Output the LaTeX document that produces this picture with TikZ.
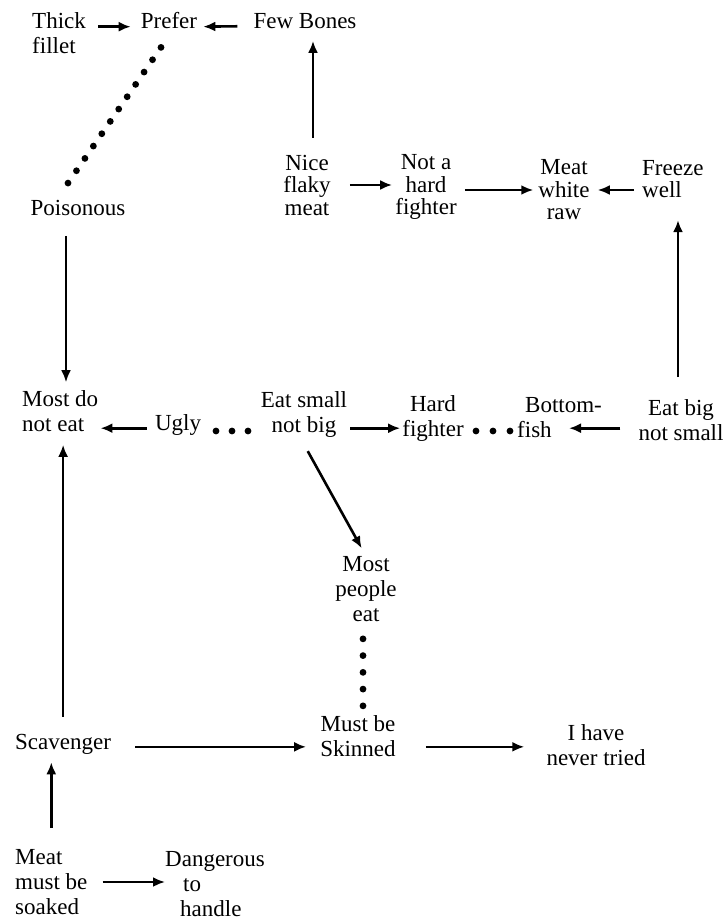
\documentclass[tikz,border=0pt]{standalone}
\usepackage{fontspec}
\setmainfont{Liberation Serif}
\usetikzlibrary{calc,arrows.meta}
\tikzset{
  concept/.style={font=\fontsize{23}{25}\selectfont, align=center, inner sep=0pt},
  tight/.style={font=\fontsize{23}{22.5}\selectfont},
  arrow/.style={-{Latex[length=12pt, width=10pt]}, line width=2.6pt},
  dot/.style={fill=black}
}

\begin{document}
\begin{tikzpicture}[x=1pt, y=-1pt]
  \useasboundingbox (0,0) rectangle (727,920);

  % Top row
  \node[concept, anchor=west, align=left] (thick) at (32,33) {Thick\\fillet};
  \node[concept] (prefer) at (169,21) {Prefer};
  \node[concept] (bones) at (305,21) {Few Bones};
  \node[concept] (poison) at (78,208) {Poisonous};
  \draw[arrow, shorten <=12pt, shorten >=10pt] (thick.east |- prefer.mid) -- (prefer.mid west);
  \draw[arrow, shorten <=16pt, shorten >=6pt] (bones.mid west) -- (prefer.mid east);
  % dots Prefer ... Poisonous
  \coordinate (p1) at ($(prefer.south)+(-8,18)$);
  \coordinate (p2) at ($(poison.north)+(-10,-17)$);
  \foreach \i in {0,...,11}
    \fill[dot] ($(p1)!\i/11!(p2)$) circle (3.4pt);

  % Fish meat row
  \node[concept, tight] (nice) at (307,185) {Nice\\flaky\\meat};
  \node[concept, tight] (nothard) at (426,187) {Not a\\hard\\fighter};
  \node[concept, tight] (white) at (564,190) {Meat\\white\\raw};
  \node[concept, tight, anchor=west, align=left] (freeze) at (642,179) {Freeze\\well};
  \draw[arrow, shorten <=17pt, shorten >=12pt] ([xshift=6pt]nice.north) -- ([xshift=6pt]nice.north |- bones.south);
  \draw[arrow, shorten <=19pt, shorten >=3pt] (nice.east) -- (nice.east -| nothard.west);
  \draw[arrow, shorten <=8pt, shorten >=5pt] (nothard.east |- white) -- (white.west);
  \draw[arrow, shorten <=8pt, shorten >=8pt] (freeze.west |- white) -- (white.east);

  % Middle row
  \node[concept, anchor=west, align=left] (mostnot) at (22,411) {Most do\\not eat};
  \node[concept] (ugly) at (178,425) {Ugly};
  \node[concept] (small) at (304,414) {Eat small\\not big};
  \node[concept] (hard) at (433,418) {Hard\\fighter};
  \node[concept, anchor=west, align=left] (bottom) at (517,418) {\hspace*{8pt}Bottom-\\fish};
  \node[concept] (bigsmall) at (681,420) {Eat big\\not small};
  \draw[arrow, shorten <=22pt, shorten >=22pt] ([xshift=-3pt]bigsmall.north) -- ([xshift=-3pt]bigsmall.north |- freeze.south);
  \draw[arrow, shorten <=20pt, shorten >=8pt] ([xshift=-12pt]poison.south) -- ([xshift=-12pt]poison.south |- mostnot.north);
  \draw[arrow, shorten <=8pt, shorten >=2pt] (ugly.mid west) -- (ugly.mid west -| mostnot.east);
  \draw[arrow, shorten <=3pt, shorten >=2pt] (small.east |- ugly.mid) -- (hard.west |- ugly.mid);
  \draw[arrow, shorten <=18pt] (bigsmall.west |- ugly.mid) -- ([xshift=52pt]bottom.west |- ugly.mid);
  \foreach \x in {216,232,248}
    \fill[dot] (\x,431) circle (3.4pt);
  \foreach \x in {476,493,510}
    \fill[dot] (\x,431) circle (3.4pt);

  % Lower part
  \node[concept] (mostpeople) at (366,589) {Most\\people\\eat};
  \node[concept] (skinned) at (358,736) {Must be\\Skinned};
  \node[concept] (never) at (596,745) {I have\\never tried};
  \node[concept, anchor=west] (scav) at (15,744) {Scavenger};
  \node[concept, anchor=west, align=left] (soaked) at (15,882) {Meat\\must be\\soaked};
  \node[concept, anchor=west, align=left] (danger) at (165,884) {Dangerous\\\hspace*{18pt}to\\\hspace*{15pt}handle};
  \draw[arrow, shorten <=16pt, shorten >=9pt] ([xshift=-4pt]small.south) -- (mostpeople.north);
  \foreach \i in {0,...,4}
    \fill[dot] ($(mostpeople.south)+(-3,17+\i*16.75)$) circle (3.4pt);
  \draw[arrow, shorten <=24pt, shorten >=14pt] (scav.mid east) -- (scav.mid east -| skinned.west);
  \draw[arrow, shorten <=30pt, shorten >=22pt] (skinned.east |- scav.mid) -- (scav.mid -| never.west);
  \draw[arrow, shorten <=17pt, shorten >=13pt] (scav.north) -- (scav.north |- mostnot.south);
  \draw[arrow, shorten <=21pt, shorten >=8pt] (soaked.north) -- (soaked.north |- scav.south);
  \draw[arrow, shorten <=15pt] (soaked.east) -- (soaked.east -| danger.west);
\end{tikzpicture}
\end{document}
